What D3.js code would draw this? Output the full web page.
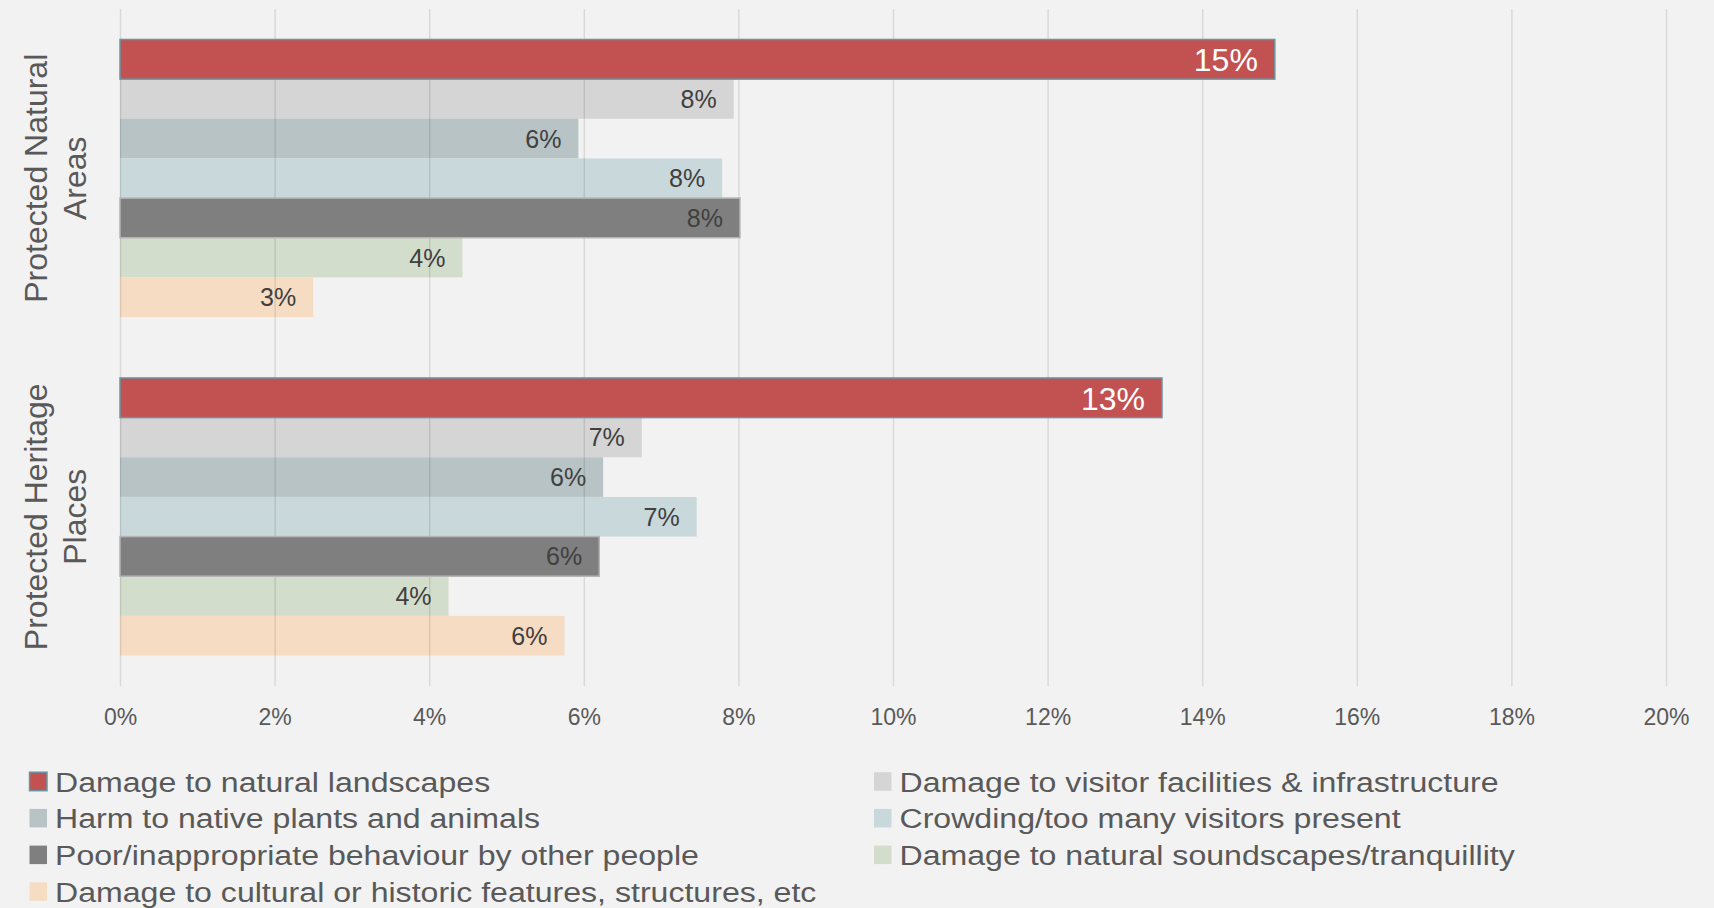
<!DOCTYPE html>
<html>
<head>
<meta charset="utf-8">
<script src="https://cdn.jsdelivr.net/npm/d3@7"></script>
<style>
  html, body { margin: 0; padding: 0; background: #F2F2F2; }
  svg { display: block; font-family: "Liberation Sans", Arial, Helvetica, sans-serif; }
</style>
</head>
<body>
<svg id="chart" width="1714" height="908"></svg>
<script>
// Site types (one group of bars each)
const categories = ["Protected Natural Areas", "Protected Heritage Places"];
const categoryLines = [["Protected Natural", "Areas"], ["Protected Heritage", "Places"]];

// Impact types, in bar / legend order
const series = [
  "Damage to natural landscapes",
  "Damage to visitor facilities & infrastructure",
  "Harm to native plants and animals",
  "Crowding/too many visitors present",
  "Poor/inappropriate behaviour by other people",
  "Damage to natural soundscapes/tranquillity",
  "Damage to cultural or historic features, structures, etc"
];

// Share of respondents (%) per impact type
const naturalAreas   = [14.94, 7.94, 5.93, 7.79, 8.02, 4.43, 2.50];
const heritagePlaces = [13.48, 6.75, 6.25, 7.46, 6.20, 4.25, 5.75];

const xTicks = [0, 2, 4, 6, 8, 10, 12, 14, 16, 18, 20];

const colors = ["#C15251", "#D5D5D5", "#B7C3C4", "#C9D8DB", "#7F7F7F", "#D3DDCC", "#F7DCC4"];

const values = [naturalAreas, heritagePlaces];
const rows = [];
categories.forEach((c, ci) => series.forEach((s, si) => rows.push({ cat: c, series: s, si, value: values[ci][si] })));

const svg = d3.select("#chart");
const W = 1714, H = 908;
const plot = { left: 120, right: 1666, top: 9, bottom: 686 };

svg.append("rect").attr("width", W).attr("height", H).attr("fill", "#F2F2F2");

const x = d3.scaleLinear().domain([0, 20]).range([plot.left, plot.right]);
const y = d3.scaleBand().domain(categories).range([plot.top, plot.bottom])
  .paddingInner(0.18).paddingOuter(0.09);
const yInner = d3.scaleBand().domain(series).range([0, y.bandwidth()]).padding(0);

// bars that sit above the gridlines
const solid = new Set([series[0], series[4]]);

const backBars = svg.append("g");
const grid = svg.append("g");
const frontBars = svg.append("g");
const labels = svg.append("g");

// vertical gridlines
grid.append("g")
  .attr("transform", `translate(0,${plot.bottom})`)
  .call(d3.axisBottom(x).tickValues(xTicks).tickSize(-(plot.bottom - plot.top)).tickFormat(""))
  .call(g => g.select(".domain").remove())
  .call(g => g.selectAll("line").attr("stroke", "rgba(0,0,0,0.1)").attr("stroke-width", 1.5));

function drawBars(layer, data) {
  layer.selectAll("rect").data(data).join("rect")
    .attr("x", x(0))
    .attr("y", d => y(d.cat) + yInner(d.series))
    .attr("width", d => x(d.value) - x(0))
    .attr("height", yInner.bandwidth())
    .attr("fill", d => colors[d.si])
    .attr("stroke", d => d.si === 0 ? "#6A96A2" : (d.si === 4 ? "#B4B4B4" : "none"))
    .attr("stroke-width", d => (d.si === 0 || d.si === 4) ? 1.5 : 0);
}
drawBars(backBars, rows.filter(d => !solid.has(d.series)));
drawBars(frontBars, rows.filter(d => solid.has(d.series)));

// value labels inside the bar ends
labels.selectAll("text").data(rows).join("text")
  .attr("x", d => x(d.value) - 17)
  .attr("y", d => y(d.cat) + yInner(d.series) + yInner.bandwidth() / 2)
  .attr("dy", d => d.si === 0 ? 12 : 9)
  .attr("text-anchor", "end")
  .attr("font-size", d => d.si === 0 ? 32 : 25)
  .attr("fill", d => d.si === 0 ? "#FFFFFF" : "#404040")
  .text(d => Math.round(d.value) + "%");

// x axis tick labels
svg.append("g")
  .attr("transform", `translate(0,${plot.bottom})`)
  .call(d3.axisBottom(x).tickValues(xTicks).tickSize(0).tickFormat(d => d + "%"))
  .call(g => g.select(".domain").remove())
  .call(g => g.selectAll("text")
    .attr("y", 39).attr("dy", 0)
    .attr("font-size", 23).attr("fill", "#595959")
    .attr("font-family", "Liberation Sans, Arial, sans-serif"));

// category labels, rotated
categories.forEach((c, ci) => {
  const cy = y(c) + y.bandwidth() / 2;
  const g = svg.append("g").attr("transform", `translate(0,${cy}) rotate(-90)`);
  categoryLines[ci].forEach((line, li) => {
    g.append("text")
      .attr("x", 0)
      .attr("y", 47 + li * 38.5)
      .attr("text-anchor", "middle")
      .attr("font-size", 32)
      .attr("fill", "#595959")
      .text(line);
  });
});

// legend, two columns
const legend = svg.append("g");
const legendCols = [29.5, 874];
const legendTop = 791.7, legendStep = 36.7;
const items = legend.selectAll("g").data(series).join("g")
  .attr("transform", (d, i) => `translate(${legendCols[i % 2]},${legendTop + Math.floor(i / 2) * legendStep})`);
items.append("rect")
  .attr("x", 0).attr("y", -19.5)
  .attr("width", 17.5).attr("height", 18.5)
  .attr("fill", (d, i) => colors[i])
  .attr("stroke", (d, i) => i === 0 ? "#6A96A2" : "none")
  .attr("stroke-width", 1.5);
items.append("text")
  .attr("transform", "translate(25.5,0) scale(1.146,1)")
  .attr("font-size", 28)
  .attr("fill", "#595959")
  .text(d => d);
</script>
</body>
</html>
